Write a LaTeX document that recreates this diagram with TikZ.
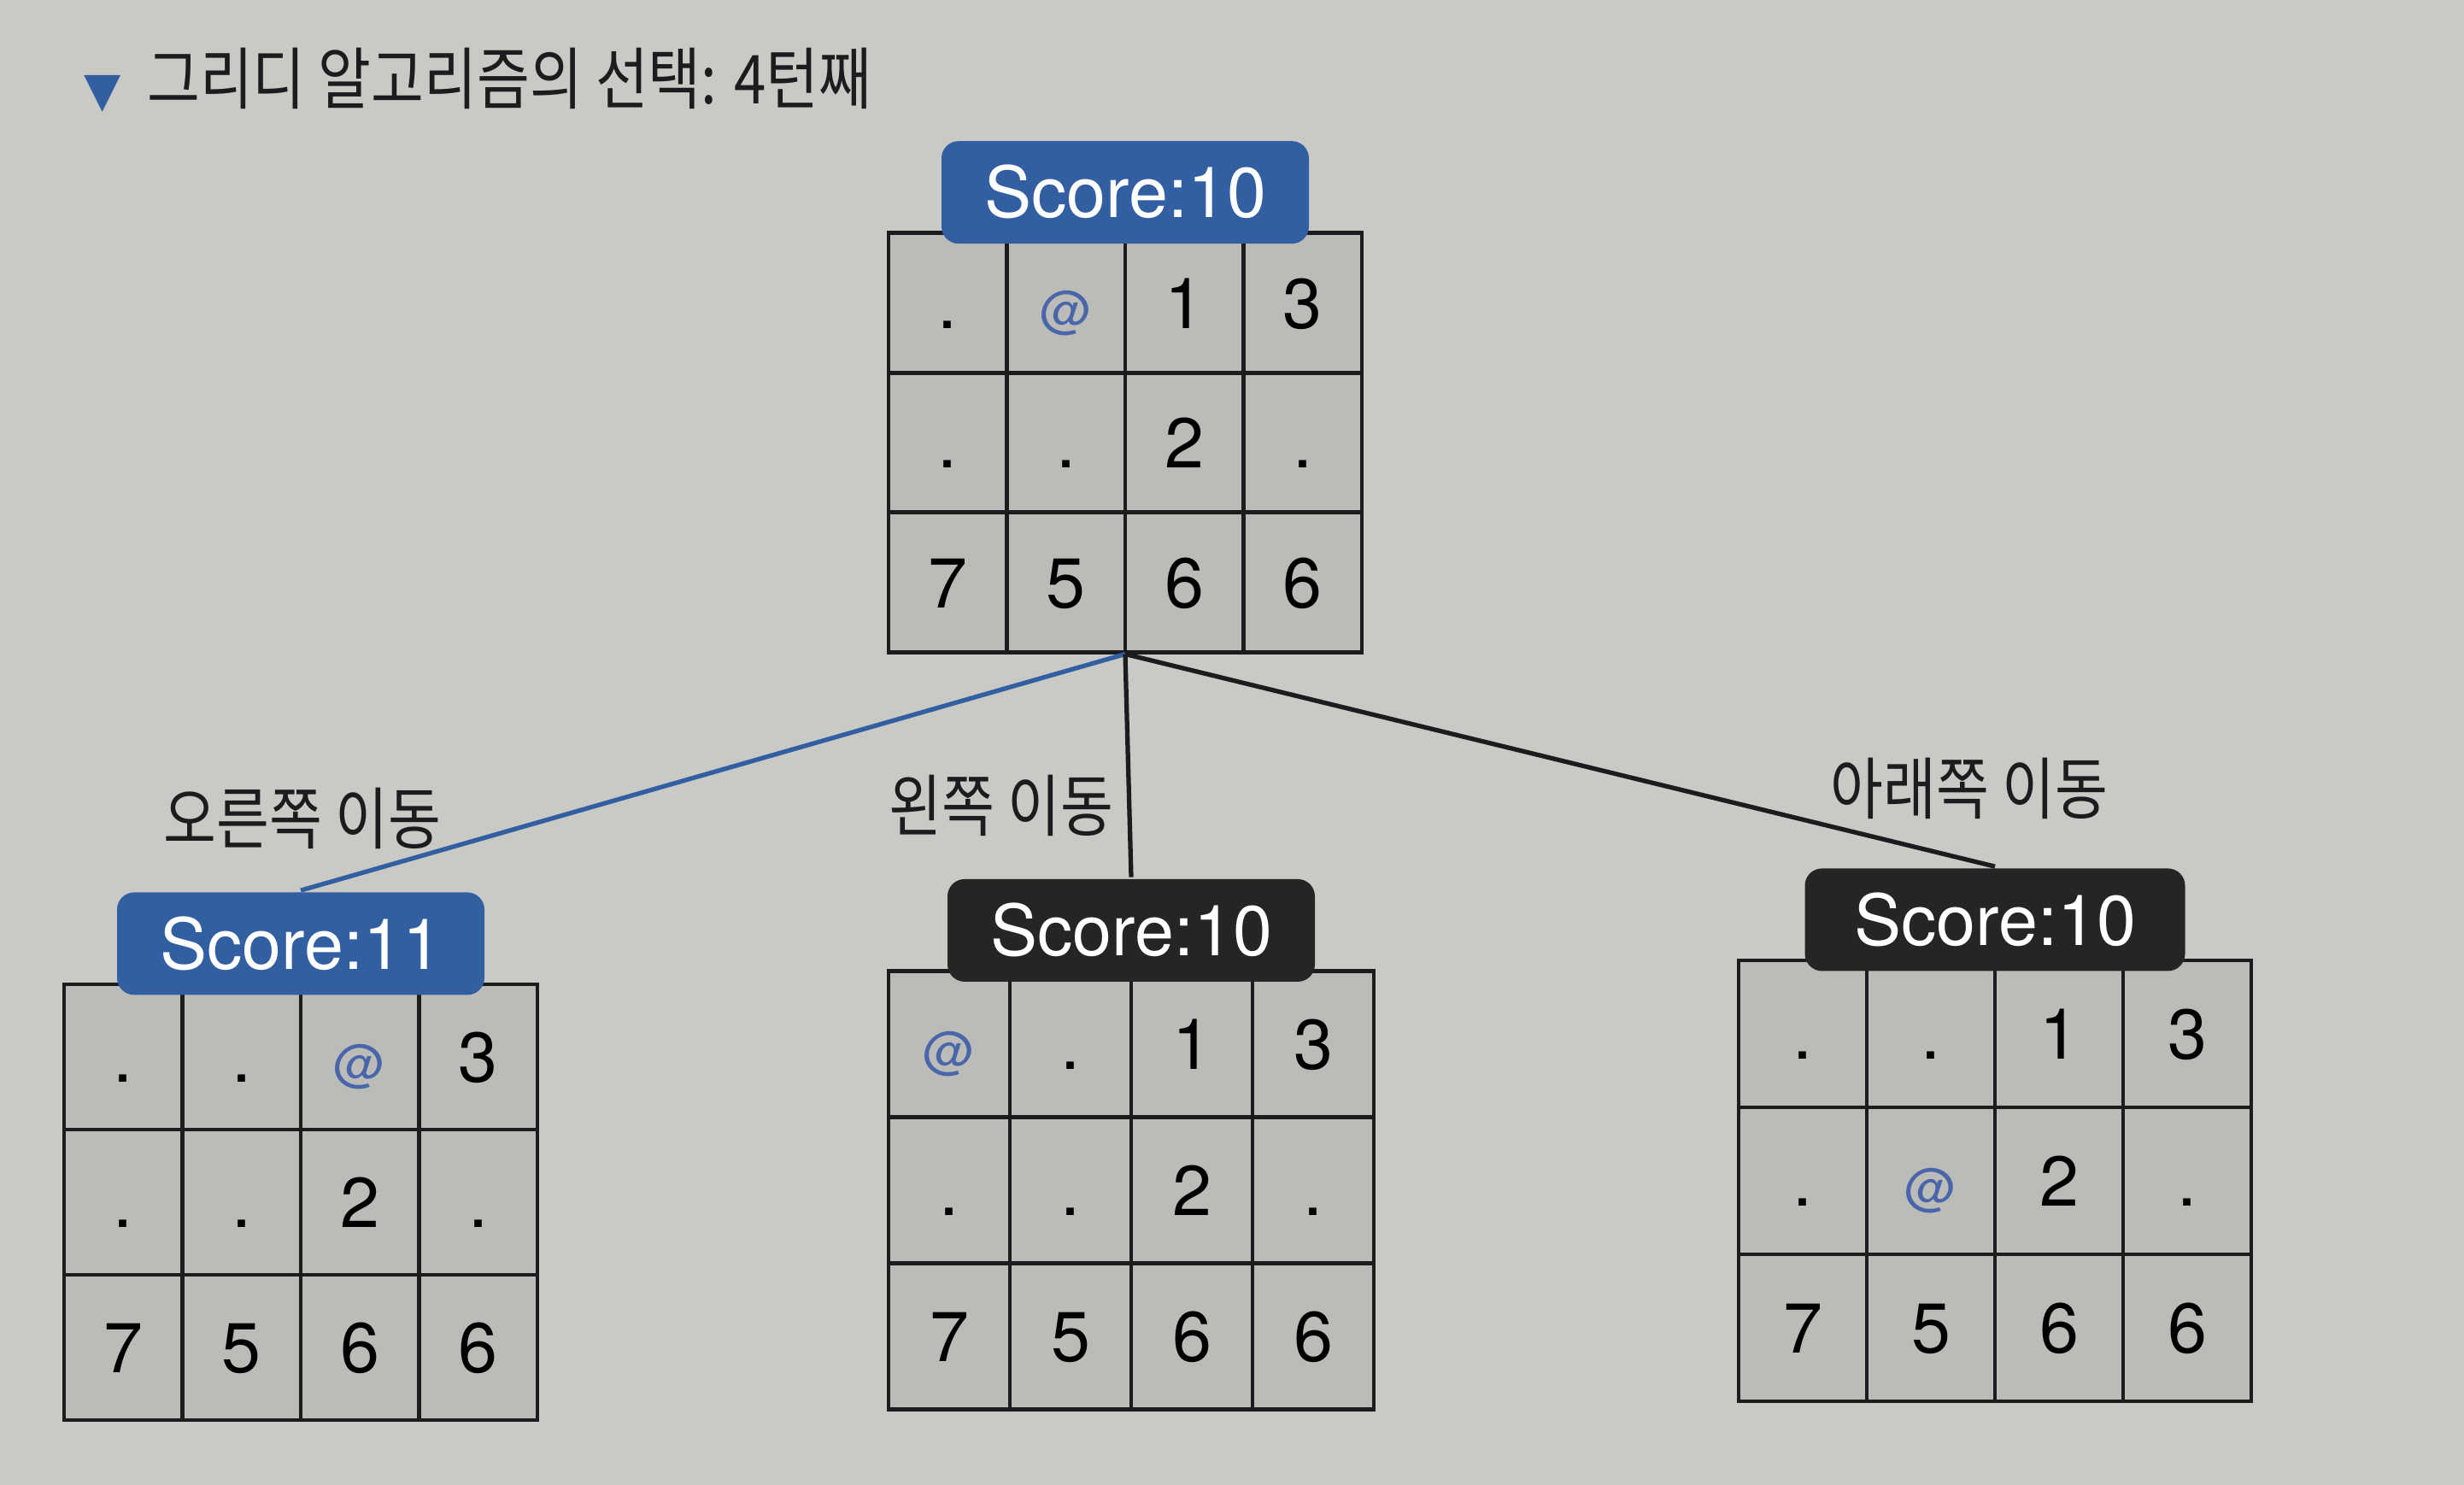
\documentclass[tikz,border=0pt]{standalone}
\usepackage{fontspec}
\setmainfont{TeX Gyre Heros}
\newfontfamily\kofont[FakeStretch=0.85]{Noto Sans CJK KR}
\newfontfamily\symfont{DejaVu Sans}
\usetikzlibrary{positioning,matrix}

\definecolor{paper}{RGB}{201,201,198}
\definecolor{cellgray}{RGB}{187,187,184}
\definecolor{scoreblue}{RGB}{50,94,162}
\definecolor{scoredark}{RGB}{37,37,37}
\definecolor{atblue}{RGB}{74,102,170}
\definecolor{ink}{RGB}{28,28,30}

\newcommand{\player}{{\fontsize{17}{17}\selectfont\color{atblue}@}}

\begin{document}
\begin{tikzpicture}[line width=1.3pt]
        \tikzstyle{cell}=[draw=ink, fill=cellgray, inner sep=0pt, outer sep=0pt, minimum width=1.36cm, minimum height=1.62cm, text height=16.9pt, text depth=0pt, font=\fontsize{23.5}{24}\selectfont]
        \tikzstyle{board}=[matrix of nodes, inner sep=0pt, outer sep=0pt, column sep=-1.3pt, row sep=-1.3pt, nodes={cell}]
        \tikzstyle{scorebox}=[rounded corners=0.2cm, minimum width=4.3cm, minimum height=1.2cm, inner sep=0pt, text=white, text height=16.9pt, text depth=0pt, font=\fontsize{23.5}{24}\selectfont]
        \tikzstyle{movetext}=[inner sep=0pt, text=ink, font=\kofont\fontsize{22.5}{24}\selectfont]

        \fill[paper] (0,0) rectangle (28.84,17.38);

        % title
        \node[inner sep=0pt, text=scoreblue, font=\symfont\fontsize{16}{16}\selectfont] (bullet) at (1.20,16.28) {▼};
        \node[movetext, anchor=west] (title) at (1.70,16.46) {그리디 알고리즘의 선택: 4턴째};

        % boards
        \matrix[board, nodes={minimum width=1.385cm, minimum height=1.635cm}] (now) at (13.17,12.20) {
            . & \player & 1 & 3 \\
            . & . & 2 & . \\
            7 & 5 & 6 & 6 \\
        };
        \matrix[board, nodes={minimum width=1.385cm, minimum height=1.70cm}] (mvright) at (3.52,3.31) {
            . & . & \player & 3 \\
            . & . & 2 & . \\
            7 & 5 & 6 & 6 \\
        };
        \matrix[board, nodes={minimum width=1.42cm, minimum height=1.71cm}] (mvleft) at (13.24,3.45) {
            \player & . & 1 & 3 \\
            . & . & 2 & . \\
            7 & 5 & 6 & 6 \\
        };
        \matrix[board, nodes={minimum width=1.50cm, minimum height=1.72cm}] (mvdown) at (23.35,3.56) {
            . & . & 1 & 3 \\
            . & \player & 2 & . \\
            7 & 5 & 6 & 6 \\
        };

        % scores
        \node[scorebox, fill=scoreblue, above=-0.17cm of now] (s-now) {Score:10};
        \node[scorebox, fill=scoreblue, above=-0.17cm of mvright] (s-right) {Score:11};
        \node[scorebox, fill=scoredark, above=-0.17cm of mvleft] (s-left) {Score:10};
        \node[scorebox, fill=scoredark, above=-0.17cm of mvdown, minimum width=4.45cm] (s-down) {Score:10};

        \draw[scoreblue, line width=1.5pt] (now.south) -- (s-right.north);
        \draw[ink, line width=1.5pt] (now.south) -- (s-left.north);
        \draw[ink, line width=1.5pt] (now.south) -- (s-down.north);

        \node[movetext] (t-right) at (3.54,7.80) {오른쪽 이동};
        \node[movetext] (t-left) at (11.72,7.95) {왼쪽 이동};
        \node[movetext] (t-down) at (23.05,8.15) {아래쪽 이동};

\end{tikzpicture}
\end{document}
